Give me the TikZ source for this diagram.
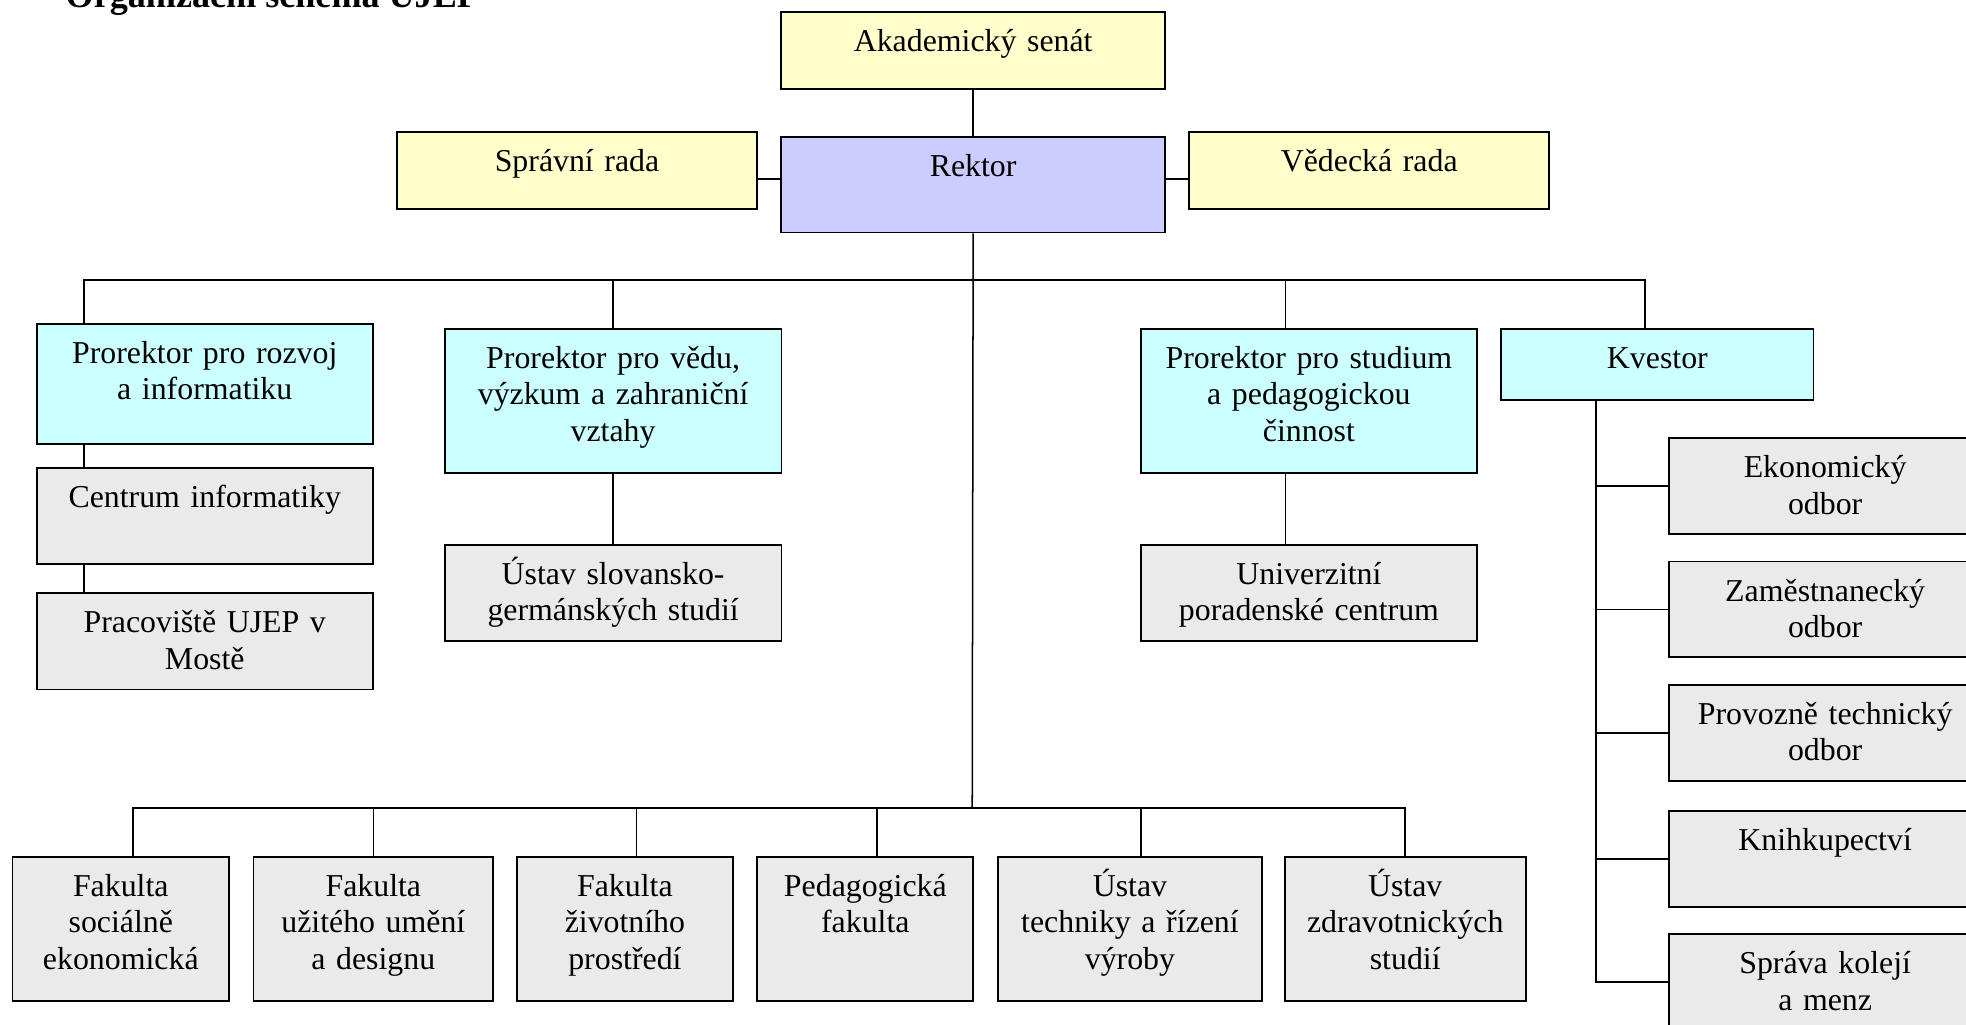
\documentclass[tikz,border=0pt]{standalone}
\usepackage{fontspec}
\setmainfont{Liberation Serif}
\usetikzlibrary{positioning}
\definecolor{senatyellow}{RGB}{255,255,204}
\definecolor{rektorblue}{RGB}{204,204,255}
\definecolor{prorcyan}{RGB}{204,255,255}
\definecolor{unitgray}{RGB}{234,234,234}

\begin{document}
\begin{tikzpicture}[
  x=0.5pt, y=-0.5pt,
  box/.style={draw, line width=0.75pt, anchor=north west, align=center, inner sep=0pt, text height=15.75pt, font=\fontsize{12.7pt}{14.5pt}\selectfont},
  conn/.style={draw, line width=0.6pt},
  title/.style={anchor=base west, inner sep=0pt, font=\fontsize{14.4pt}{17pt}\selectfont\bfseries}
]
  \useasboundingbox (0,0) rectangle (1568,817.5);

  \node[title] (nadpis) at (52,5.8) {Organizační schéma UJEP};

  % vedeni
  \node[box, fill=senatyellow, text width=153.1pt, text depth=14.95pt] (senat) at (622.3,8.8) {Akademický senát};
  \node[box, fill=senatyellow, text width=143.65pt, text depth=15pt] (spravni) at (315.8,104.5) {Správní rada};
  \node[box, fill=rektorblue, text width=153.1pt, text depth=22.35pt] (rektor) at (622.3,108.5) {Rektor};
  \node[box, fill=senatyellow, text width=143.5pt, text depth=15pt] (vedecka) at (947.8,104.5) {Vědecká rada};

  % prorektori a kvestor
  \node[box, fill=prorcyan, text width=134.05pt, text depth=32.2pt] (rozvoj) at (28.5,257.6) {Prorektor pro rozvoj\\a informatiku};
  \node[box, fill=prorcyan, text width=134.25pt, text depth=41.8pt] (veda) at (354,261.6) {Prorektor pro vědu,\\výzkum a zahraniční\\vztahy};
  \node[box, fill=prorcyan, text width=134.2pt, text depth=41.8pt] (studium) at (909,261.6) {Prorektor pro studium\\a pedagogickou\\činnost};
  \node[box, fill=prorcyan, text width=124.5pt, text depth=12.85pt] (kvestor) at (1196.6,261.3) {Kvestor};

  \node[box, fill=unitgray, text width=134.05pt, text depth=22.75pt] (centrum) at (28.5,372.2) {Centrum informatiky};
  \node[box, fill=unitgray, text width=134.05pt, text depth=22.65pt] (most) at (28.5,472.4) {Pracoviště UJEP v\\Mostě};
  \node[box, fill=unitgray, text width=134.25pt, text depth=22.65pt] (slovan) at (354,433.8) {Ústav slovansko-\\germánských studií};
  \node[box, fill=unitgray, text width=134.2pt, text depth=22.65pt] (poradna) at (909,433.8) {Univerzitní\\poradenské centrum};

  % odbory kvestora
  \node[box, fill=unitgray, text width=124.5pt, text depth=22.4pt] (ekon) at (1330.4,348.7) {Ekonomický\\odbor};
  \node[box, fill=unitgray, text width=124.5pt, text depth=22.4pt] (zames) at (1330.4,447.1) {Zaměstnanecký\\odbor};
  \node[box, fill=unitgray, text width=124.5pt, text depth=22.4pt] (provoz) at (1330.4,545.6) {Provozně technický\\odbor};
  \node[box, fill=unitgray, text width=124.5pt, text depth=22.4pt] (knihy) at (1330.4,646) {Knihkupectví};
  \node[box, fill=unitgray, text width=124.5pt, text depth=22.4pt] (koleje) at (1330.4,744.3) {Správa kolejí\\a menz};

  % fakulty a ustavy
  \node[box, fill=unitgray, text width=86.4pt, text depth=41.65pt] (fak1) at (9.2,682.6) {Fakulta\\sociálně\\ekonomická};
  \node[box, fill=unitgray, text width=95.6pt, text depth=41.65pt] (fak2) at (201.4,682.6) {Fakulta\\užitého umění\\a designu};
  \node[box, fill=unitgray, text width=86.15pt, text depth=41.65pt] (fak3) at (411.5,682.6) {Fakulta\\životního\\prostředí};
  \node[box, fill=unitgray, text width=86.2pt, text depth=41.65pt] (fak4) at (603.2,682.6) {Pedagogická\\fakulta};
  \node[box, fill=unitgray, text width=105.45pt, text depth=41.65pt] (fak5) at (795,682.6) {Ústav\\techniky a řízení\\výroby};
  \node[box, fill=unitgray, text width=96pt, text depth=41.65pt] (fak6) at (1024,682.6) {Ústav\\zdravotnických\\studií};

  % spojnice
  \coordinate (busA) at (775.4,223.3);
  \coordinate (busB) at (775.4,644.6);
  \coordinate (radaY) at (0,142.7);
  \coordinate (rozvojIn) at ([xshift=19.25pt]rozvoj.north west);
  \coordinate (studiumIn) at ([xshift=-9.35pt]studium.north);
  \coordinate (kvestorIn) at ([xshift=-4.9pt]kvestor.north);
  \coordinate (kvestorOut) at ([xshift=38.2pt]kvestor.south west);

  \draw[conn] (senat) -- (rektor);
  \draw[conn] (spravni.east |- radaY) -- (rektor.west |- radaY);
  \draw[conn] (vedecka.west |- radaY) -- (rektor.east |- radaY);
  \draw[conn] (rektor.south) -- (busB);
  \draw[conn] (rozvojIn) |- (busA);
  \draw[conn] (veda.north) |- (busA);
  \draw[conn] (studiumIn) |- (busA);
  \draw[conn] (kvestorIn) |- (busA);
  \draw[conn] (rozvojIn |- rozvoj.south) -- (rozvojIn |- centrum.north);
  \draw[conn] (rozvojIn |- centrum.south) -- (rozvojIn |- most.north);
  \draw[conn] (veda) -- (slovan);
  \draw[conn] (studiumIn |- studium.south) -- (studiumIn |- poradna.north);
  \foreach \odbor in {ekon, zames, provoz, knihy, koleje}
    \draw[conn] (kvestorOut) |- (\odbor.west);
  \foreach \fak/\dx in {fak1/4.85, fak2/0, fak3/4.7, fak4/4.6, fak5/4.5, fak6/0}
    \draw[conn] ([xshift=\dx pt]\fak.north) |- (busB);
\end{tikzpicture}
\end{document}
